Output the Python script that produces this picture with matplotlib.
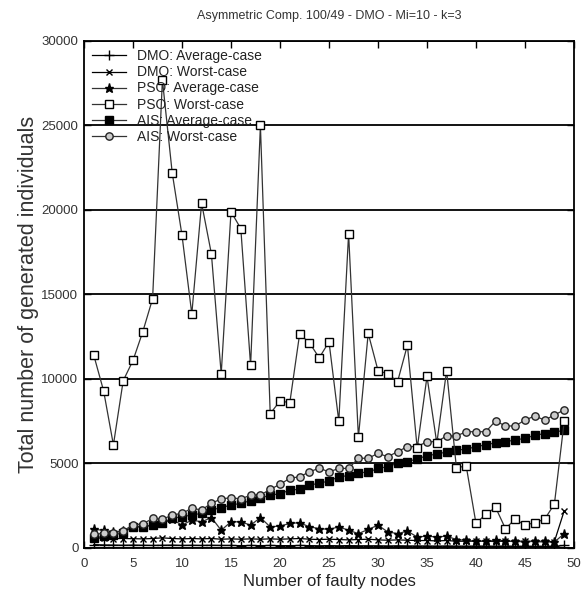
import matplotlib
matplotlib.use("Agg")
import matplotlib.pyplot as plt
from matplotlib import font_manager

nodes = list(range(1, 50))

dmo_avg = [200, 180, 170, 160, 170, 160, 150, 160, 170, 150, 160, 150, 160, 150, 150, 140, 150, 140, 150, 140,
           140, 150, 140, 130, 140, 130, 140, 130, 130, 130, 120, 130, 120, 120, 120, 110, 120, 110, 110, 110,
           110, 100, 110, 100, 100, 100, 100, 100, 150]
dmo_worst = [600, 580, 560, 560, 550, 540, 560, 600, 560, 540, 560, 540, 560, 520, 540, 520, 540, 520, 540, 520,
             540, 560, 520, 500, 520, 500, 480, 500, 520, 480, 460, 480, 460, 440, 440, 420, 440, 400, 400, 400,
             400, 380, 400, 380, 420, 380, 360, 380, 2200]
pso_avg = [1100, 1050, 950, 1000, 1250, 1250, 1350, 1450, 1700, 1350, 1650, 1550, 1800, 1050, 1550, 1550, 1350, 1800, 1250, 1300,
           1450, 1500, 1250, 1150, 1100, 1250, 1050, 850, 1100, 1350, 950, 850, 1000, 650, 700, 650, 700, 500, 450, 400,
           400, 450, 400, 400, 350, 400, 400, 350, 850]
pso_worst = [11400, 9300, 6100, 9900, 11100, 12800, 14750, 27700, 22200, 18500, 13850, 20400, 17400, 10300, 19900, 18900, 10800, 25000, 7950, 8700,
             8600, 12650, 12150, 11250, 12200, 7500, 18600, 6550, 12700, 10500, 10300, 9850, 12000, 5900, 10150, 6200, 10500, 4750, 4850, 1450,
             2000, 2400, 1150, 1700, 1350, 1500, 1700, 2600, 7500]
ais_avg = [570, 710, 770, 900, 1260, 1260, 1360, 1500, 1750, 1850, 1950, 2050, 2250, 2390, 2540, 2640, 2800, 2940, 3140, 3200,
           3430, 3470, 3700, 3850, 3950, 4220, 4280, 4460, 4480, 4710, 4810, 5010, 5110, 5270, 5460, 5560, 5680, 5800, 5840, 6000,
           6100, 6230, 6290, 6390, 6490, 6670, 6770, 6840, 6980]
ais_worst = [800, 870, 900, 1020, 1360, 1420, 1750, 1700, 1950, 2050, 2350, 2250, 2650, 2900, 2980, 2900, 3130, 3130, 3470, 3770,
             4120, 4220, 4500, 4730, 4500, 4710, 4710, 5310, 5310, 5600, 5400, 5700, 6000, 6000, 6290, 6290, 6630, 6630, 6880, 6880,
             6880, 7520, 7220, 7220, 7570, 7810, 7570, 7870, 8170]

series_labels = ["DMO: Average-case", "DMO: Worst-case", "PSO: Average-case",
                 "PSO: Worst-case", "AIS: Average-case", "AIS: Worst-case"]
x_ticks = [0, 5, 10, 15, 20, 25, 30, 35, 40, 45, 50]
y_ticks = [0, 5000, 10000, 15000, 20000, 25000, 30000]

avail = {f.name for f in font_manager.fontManager.ttflist}
narrow = "Liberation Sans Narrow" if "Liberation Sans Narrow" in avail else "Liberation Sans"
regular = "Liberation Sans"

fig = plt.figure(figsize=(5.85, 6.01), dpi=100)
ax = fig.add_axes([0.1436, 0.0882, 0.8376, 0.8436])

gray = "#333333"
ax.plot(nodes, dmo_avg, color="black", lw=0.9, marker="+", ms=7, mew=1.0, label=series_labels[0], zorder=3)
ax.plot(nodes, dmo_worst, color="black", lw=0.9, marker="x", ms=5, mew=1.0, label=series_labels[1], zorder=3)
ax.plot(nodes, pso_avg, color=gray, lw=0.9, marker="*", ms=6.5, mfc="black", mec="black", label=series_labels[2], zorder=3)
ax.plot(nodes, pso_worst, color=gray, lw=0.9, marker="s", ms=5.2, mfc="white", mec="black", mew=1.0, label=series_labels[3], zorder=4)
ax.plot(nodes, ais_avg, color=gray, lw=0.9, marker="s", ms=5.8, mfc="black", mec="black", label=series_labels[4], zorder=3)
ax.plot(nodes, ais_worst, color=gray, lw=0.9, marker="o", ms=5.3, mfc="#cccccc", mec="#222222", mew=1.0, label=series_labels[5], zorder=3)

ax.set_xlim(0, 50)
ax.set_ylim(0, 30000)
ax.set_xticks(x_ticks)
ax.set_yticks(y_ticks)
ax.yaxis.grid(True, color="black", lw=1.3)
ax.set_axisbelow(True)
ax.tick_params(direction="in", top=True, right=True, length=5, width=1.0,
               labelsize=9.5, labelcolor="#333333")
ax.tick_params(axis="y", pad=4)
ax.tick_params(axis="x", pad=7)
for lab in ax.get_xticklabels() + ax.get_yticklabels():
    lab.set_family(narrow)
for s in ax.spines.values():
    s.set_linewidth(1.3)
    s.set_color("black")

ax.set_xlabel("Number of faulty nodes", fontsize=12, family=regular, color="#222222", labelpad=3)
ax.set_ylabel("Total number of generated individuals", fontsize=15.5, family=regular, color="#333333", labelpad=2)
ax.set_title("Asymmetric Comp. 100/49 - DMO - Mi=10 - k=3", fontsize=9, family=narrow, color="#333333", pad=16)

leg = ax.legend(loc="upper left", frameon=False, prop={"family": narrow, "size": 10},
                handlelength=2.4, handletextpad=0.8, labelspacing=0.15,
                borderaxespad=0.2, bbox_to_anchor=(0.0, 1.0))
for t in leg.get_texts():
    t.set_color("#222222")

fig.savefig("out.png", dpi=100)
